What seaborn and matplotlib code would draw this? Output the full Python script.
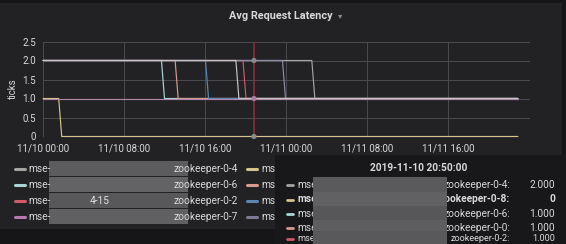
import matplotlib
matplotlib.use("Agg")
import matplotlib.pyplot as plt
from matplotlib.patches import Rectangle
from matplotlib.lines import Line2D
import seaborn as sns
import pandas as pd

# ---------------- data (hours since 11/10 00:00) ----------------
zk04_t = [0, 26.55, 26.85, 46.9]; zk04_v = [2, 2, 1, 1]
zk08_t = [0, 1.55, 1.85, 46.9];   zk08_v = [1, 1, 0, 0]
zk06_t = [0, 11.7, 12.0, 46.9];   zk06_v = [2, 2, 1, 1]
zk00_t = [0, 13.05, 13.35, 46.9]; zk00_v = [2, 2, 1, 1]
zk02_t = [0, 19.75, 20.05, 46.9]; zk02_v = [2, 2, 1, 1]
zk01_t = [0, 16.05, 16.35, 46.9]; zk01_v = [2, 2, 1, 1]
zk07_t = [0, 46.9];               zk07_v = [1, 1]
zk03_t = [0, 23.65, 23.95, 46.9]; zk03_v = [2, 2, 1, 1]
zk05_t = [0, 19.05, 19.35, 46.9]; zk05_v = [2, 2, 1, 1]

series_names = ["zookeeper-0-4", "zookeeper-0-8", "zookeeper-0-6", "zookeeper-0-0",
                "zookeeper-0-2", "zookeeper-0-1", "zookeeper-0-7", "zookeeper-0-3",
                "zookeeper-0-5"]
series_colors = ["#a3a6a0", "#d4c48e", "#a8d6d6", "#d99a8e",
                 "#cf5a6a", "#5d86b3", "#ad86aa", "#8d8ba5", "#c4c4c4"]
x_ticks = [0, 8, 16, 24, 32, 40]
x_labels = ["11/10 00:00", "11/10 08:00", "11/10 16:00",
            "11/11 00:00", "11/11 08:00", "11/11 16:00"]
y_ticks = [0, 0.5, 1.0, 1.5, 2.0, 2.5]
y_labels = ["0", "0.5", "1.0", "1.5", "2.0", "2.5"]
cursor_hour = 20 + 50 / 60
cursor_values = [2, 1, 0]
legend_names = ["zookeeper-0-4", "zookeeper-0-6", "zookeeper-0-2", "zookeeper-0-7"]
legend_colors_c1 = ["#a3a6a0", "#a8d6d6", "#cf5a6a", "#b87aae"]
legend_colors_c2 = ["#d4c48e", "#d99a8e", "#5d86b3", "#7c7a95"]
tooltip_title = "2019-11-10 20:50:00"
tooltip_names = ["zookeeper-0-4:", "zookeeper-0-8:", "zookeeper-0-6:", "zookeeper-0-0:", "zookeeper-0-2:"]
tooltip_values = ["2.000", "0", "1.000", "1.000", "1.000"]
tooltip_colors = ["#a3a6a0", "#d4c48e", "#a8d6d6", "#d99a8e", "#cf5a6a"]

all_t = [zk04_t, zk08_t, zk06_t, zk00_t, zk02_t, zk01_t, zk07_t, zk03_t, zk05_t]
all_v = [zk04_v, zk08_v, zk06_v, zk00_v, zk02_v, zk01_v, zk07_v, zk03_v, zk05_v]

# ---------------- style ----------------
sns.set_style("dark")
plt.rcParams["font.family"] = ["Roboto", "DejaVu Sans"]

W, H = 566, 244
PANEL = "#222225"
TXT = "#d8d9da"
fig = plt.figure(figsize=(W / 100, H / 100), dpi=100, facecolor="#161618")

def fx(x):
    return x / W

def fy(y):
    return 1 - y / H

# panel background (behind everything)
fig.patches.append(Rectangle((0, fy(229)), fx(562), fy(3) - fy(229),
                             transform=fig.transFigure, facecolor=PANEL,
                             edgecolor="none", zorder=-10))

# axes aligned so the 0.5-step gridlines fall on pixel centres
ax = fig.add_axes([fx(43), 107.5 / H, fx(530) - fx(43), 95 / H])
ax.set_zorder(1)
ax.patch.set_alpha(0)

# one seaborn call per series so the stacking order is explicit
for i, (name, t, v, c) in enumerate(zip(series_names, all_t, all_v, series_colors)):
    d = pd.DataFrame({"hour": t, "value": v})
    sns.lineplot(data=d, x="hour", y="value", color=c, linewidth=0.85,
                 estimator=None, ax=ax, zorder=2 + 0.1 * i, clip_on=False)

ax.set_xlim(0, 48.1)
ax.set_ylim(0, 2.5)
ax.set_xticks(x_ticks)
ax.set_xticklabels(x_labels)
ax.set_yticks(y_ticks)
ax.set_yticklabels(y_labels)
ax.tick_params(axis="both", length=0, colors=TXT, labelsize=7)
ax.tick_params(axis="x", pad=5)
ax.tick_params(axis="y", pad=5)
ax.grid(True, color="#4c4c50", linewidth=0.7)
ax.set_axisbelow(True)
for s in ax.spines.values():
    s.set_visible(False)
ax.set_xlabel("")
ax.set_ylabel("ticks", color=TXT, fontsize=7, labelpad=3)

# crosshair
ax.axvline(cursor_hour, color="#8e2c40", linewidth=1.3, alpha=0.9, zorder=5)
ax.scatter([cursor_hour] * 3, cursor_values, s=14,
           color=["#8a8a8a", "#b07aa0", "#8a8a8a"], zorder=6, clip_on=False,
           edgecolors="none")

# title
fig.text(fx(281), fy(16), "Avg Request Latency", ha="center", va="center",
         color=TXT, fontsize=7.8, fontweight="bold")
fig.text(fx(340), fy(16), "\u25be", ha="center", va="center", color="#8e8e8e",
         fontsize=6, family="DejaVu Sans")

# ---------------- legend ----------------
rows_y = [169, 185, 201, 217]
for i, y in enumerate(rows_y):
    fig.add_artist(Line2D([fx(15), fx(25)], [fy(y), fy(y)], color=legend_colors_c1[i],
                          linewidth=2.2, transform=fig.transFigure, solid_capstyle="round"))
    fig.text(fx(28), fy(y), "mse-", ha="left", va="center", color=TXT, fontsize=7.3)
    fig.text(fx(238), fy(y), legend_names[i], ha="right", va="center", color=TXT, fontsize=7.3)
    fig.add_artist(Line2D([fx(247), fx(257)], [fy(y), fy(y)], color=legend_colors_c2[i],
                          linewidth=2.2, transform=fig.transFigure, solid_capstyle="round"))
    fig.text(fx(261), fy(y), "mse-", ha="left", va="center", color=TXT, fontsize=7.3)

# blurred box over legend names
blur_grays = ["#5c5c5e", "#636365", "#58585a", "#606062"]
for i, y in enumerate(rows_y):
    fig.patches.append(Rectangle((fx(49), fy(y + 7)), fx(188) - fx(49), fy(y - 8) - fy(y + 7),
                                 transform=fig.transFigure, facecolor=blur_grays[i],
                                 edgecolor="none", zorder=3))
fig.text(fx(100), fy(201), "4-15", ha="center", va="center", color="#e0e0e0",
         fontsize=7.3, zorder=4)

# ---------------- tooltip ----------------
fig.patches.append(Rectangle((fx(275), 0), fx(566) - fx(275), fy(155),
                             transform=fig.transFigure, facecolor="#18181a",
                             edgecolor="none", zorder=5))
fig.text(fx(419), fy(168), tooltip_title, ha="center", va="center", color=TXT,
         fontsize=7.3, fontweight="bold", zorder=6)
tt_rows = [185, 199.5, 214, 228, 238.5]
for i, y in enumerate(tt_rows):
    fig.add_artist(Line2D([fx(287), fx(293)], [fy(y), fy(y)], color=tooltip_colors[i],
                          linewidth=2.0, transform=fig.transFigure, zorder=6))
    bold = "bold" if i == 1 else "normal"
    fs = 7.3 if i < 4 else 6.6
    fig.text(fx(297), fy(y), "mse-", ha="left", va="center", color=TXT,
             fontsize=fs, fontweight=bold, zorder=6)
    fig.text(fx(510), fy(y), tooltip_names[i], ha="right", va="center", color=TXT,
             fontsize=fs, fontweight=bold, zorder=6)
    fig.text(fx(555), fy(y), tooltip_values[i], ha="right", va="center", color=TXT,
             fontsize=fs, fontweight=bold, zorder=6)
tt_blur = ["#5a5a5c", "#616163", "#575759", "#5e5e60", "#59595b"]
for i, y in enumerate(tt_rows):
    fig.patches.append(Rectangle((fx(313), fy(y + 7)), fx(447) - fx(313), fy(y - 8) - fy(y + 7),
                                 transform=fig.transFigure, facecolor=tt_blur[i],
                                 edgecolor="none", zorder=7))

fig.savefig("out.png", dpi=100, facecolor=fig.get_facecolor())
